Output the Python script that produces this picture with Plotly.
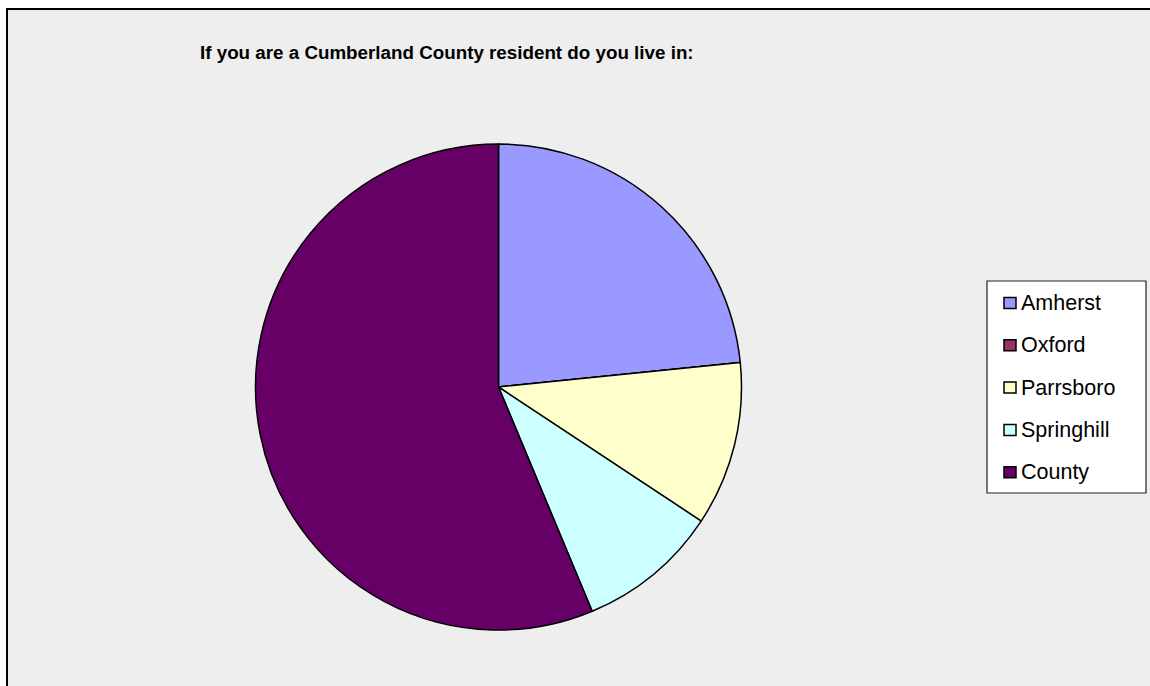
import plotly.graph_objects as go

# Survey responses: where Cumberland County residents live (share of answers, %)
labels = ["Amherst", "Oxford", "Parrsboro", "Springhill", "County"]
shares = [23.4, 0.0, 10.9, 9.4, 56.3]
colors = ["#9999FF", "#993366", "#FFFFCC", "#CCFFFF", "#660066"]
title_text = "If you are a Cumberland County resident do you live in:"

W, H = 1150, 686


def px_x(x):
    return x / W


def px_y(y):
    return 1 - y / H


fig = go.Figure()

fig.add_trace(go.Pie(
    labels=labels,
    values=shares,
    sort=False,
    direction="clockwise",
    rotation=0,
    marker=dict(colors=colors, line=dict(color="black", width=1.5)),
    textinfo="none",
    hoverinfo="label+percent",
    showlegend=False,
    domain=dict(x=[px_x(498.5 - 243), px_x(498.5 + 243)],
                y=[px_y(630), px_y(144)]),
))

shapes = []
annotations = []

# chart area frame
shapes.append(dict(type="rect", xref="paper", yref="paper",
                   x0=px_x(7), y0=px_y(700), x1=px_x(1170), y1=px_y(9),
                   line=dict(color="black", width=2), fillcolor="#EEEEEE",
                   layer="below"))

# legend box
lg_left, lg_top, lg_right, lg_bottom = 987, 281, 1146, 493
shapes.append(dict(type="rect", xref="paper", yref="paper",
                   x0=px_x(lg_left), y0=px_y(lg_bottom),
                   x1=px_x(lg_right), y1=px_y(lg_top),
                   line=dict(color="#222222", width=1.2), fillcolor="white",
                   layer="below"))

row0, row_step = 303, 42.3
for i, (lab, col) in enumerate(zip(labels, colors)):
    cy = row0 + i * row_step
    shapes.append(dict(type="rect", xref="paper", yref="paper",
                       x0=px_x(1004), x1=px_x(1016),
                       y0=px_y(cy + 5.5), y1=px_y(cy - 5.5),
                       line=dict(color="black", width=1.5), fillcolor=col))
    annotations.append(dict(text=lab, xref="paper", yref="paper",
                            x=px_x(1019), y=px_y(cy),
                            xanchor="left", yanchor="middle", showarrow=False,
                            font=dict(family="Liberation Sans, Arial", size=21.5,
                                      color="black")))

annotations.append(dict(text="<b>" + title_text + "</b>", xref="paper", yref="paper",
                        x=px_x(447), y=px_y(52), xanchor="center", yanchor="middle",
                        showarrow=False,
                        font=dict(family="Liberation Sans, Arial", size=18.8,
                                  color="black")))

fig.update_layout(
    width=W, height=H,
    margin=dict(l=0, r=0, t=0, b=0),
    paper_bgcolor="white",
    shapes=shapes,
    annotations=annotations,
    showlegend=False,
)

fig.write_html("out.html")
